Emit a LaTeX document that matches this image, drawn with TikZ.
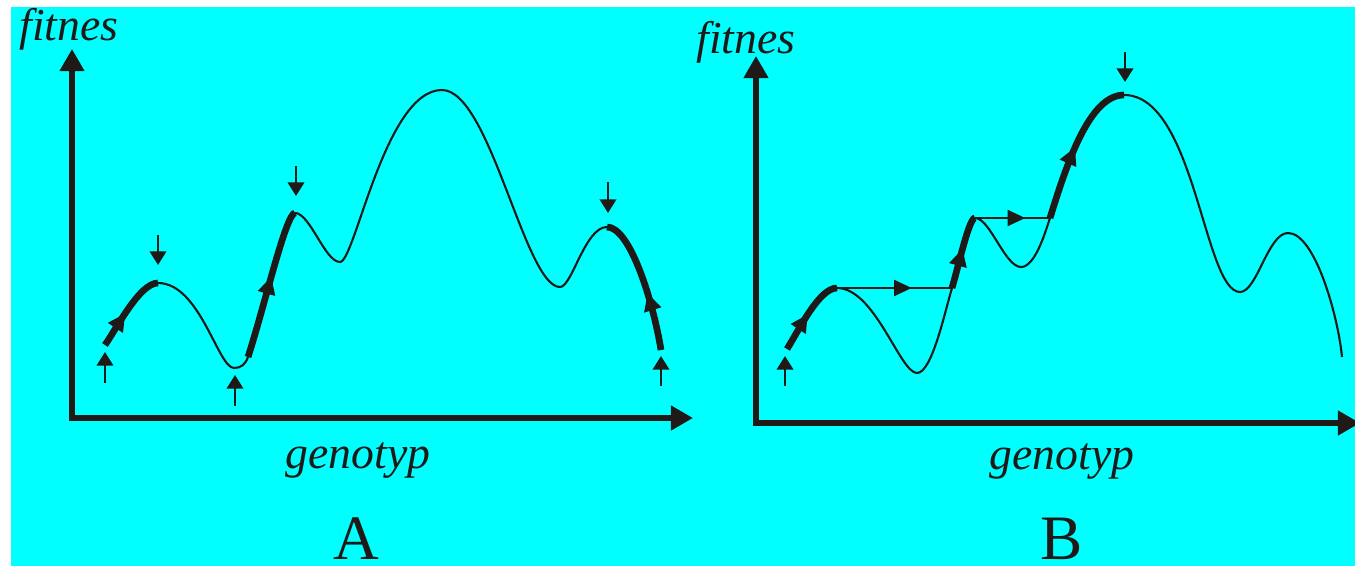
\documentclass[tikz,border=0pt]{standalone}
\usepackage{fontspec}
\setmainfont{Liberation Serif}
\usetikzlibrary{arrows.meta, decorations.markings}

\definecolor{ink}{RGB}{31,26,23}
\definecolor{sky}{RGB}{0,255,255}

\begin{document}
\begin{tikzpicture}[x=0.01cm, y=0.01cm,
    axis/.style={draw=ink, line width=1.45pt,
                 {Triangle[length=6.3pt,width=6.8pt]}-{Triangle[length=6.3pt,width=6.8pt]}},
    land/.style={draw=ink, line width=0.6pt},
    climb/.style={draw=ink, line width=1.9pt, postaction={decorate},
                  decoration={markings, mark=at position #1 with {\arrow{Triangle[length=5pt,width=4.8pt]}}}},
    jump/.style={draw=ink, line width=0.7pt, postaction={decorate},
                 decoration={markings, mark=at position #1 with {\arrow{Triangle[length=5pt,width=4.5pt]}}}},
    pin/.style={draw=ink, line width=0.7pt, -{Triangle[length=3.9pt,width=4.7pt]}},
    axlabel/.style={font=\fontsize{13pt}{15pt}\selectfont\itshape, text=ink, inner sep=0pt, anchor=base},
    panel/.style={font=\fontsize{18pt}{21pt}\selectfont, text=ink, inner sep=0pt, anchor=base}
]
    % background
    \fill[white] (0,0) rectangle (1355,566);
    \fill[sky] (11,0) rectangle (1355,559);
    \useasboundingbox (0,0) rectangle (1355,566);

    % ── Panel A ──
    \coordinate (oA) at (72,148);
    \coordinate (yA) at (72,517);
    \coordinate (xA) at (693,148);
    \draw[axis] (yA) -- (oA) -- (xA);

    \node[axlabel] (fitA) at (69,525) {fitnes};
    \node[axlabel] (genA) at (358,98) {genotyp};
    \node[panel]   (labA) at (356,7)  {A};

    \coordinate (s1A) at (105,221);
    \coordinate (p1A) at (158,283);
    \coordinate (t1A) at (234,198);
    \coordinate (q1A) at (248,209);
    \coordinate (p2A) at (295,353);
    \coordinate (t2A) at (340,304);
    \coordinate (p3A) at (442,476);
    \coordinate (t3A) at (560,279);
    \coordinate (p4A) at (607,339);
    \coordinate (eA)  at (661,216);

    \draw[land] (p1A) .. controls +(42,0) and +(-16,0) .. (t1A)
                      .. controls +(7,0) and +(-2.7,-7.5) .. (q1A);
    \draw[land] (p2A) .. controls +(15,0) and +(-15,0) .. (t2A)
                      .. controls +(15,0) and +(-57,0) .. (p3A)
                      .. controls +(48,0) and +(-35,0) .. (t3A)
                      .. controls +(12,0) and +(-22,0) .. (p4A);

    \draw[climb=0.45] (s1A) .. controls +(13,19) and +(-18,0) .. (p1A);
    \draw[climb=0.55] (q1A) .. controls +(16,49) and +(-9,0) .. (p2A);
    \draw[climb=0.42] (eA)  .. controls +(-8,49) and +(23,0) .. (p4A);

    \draw[pin] (s1A) ++(0,-38) -- ++(0,31);
    \draw[pin] (p1A) ++(0,48)  -- ++(0,-30);
    \draw[pin] (t1A) ++(1,-38) -- ++(0,31);
    \draw[pin] (p2A) ++(1,47)  -- ++(0,-30);
    \draw[pin] (p4A) ++(1,45)  -- ++(0,-31);
    \draw[pin] (eA)  ++(0,-36) -- ++(0,30);

    % ── Panel B ──
    \coordinate (oB) at (756,143);
    \coordinate (yB) at (756,510);
    \coordinate (xB) at (1360,143);
    \draw[axis] (yB) -- (oB) -- (xB);

    \node[axlabel] (fitB) at (746,512) {fitnes};
    \node[axlabel] (genB) at (1062,97) {genotyp};
    \node[panel]   (labB) at (1062,7)  {B};

    \coordinate (sB)  at (787,217);
    \coordinate (p1B) at (837,278);
    \coordinate (t1B) at (917,193);
    \coordinate (r1B) at (952,278);
    \coordinate (p2B) at (975,348);
    \coordinate (t2B) at (1021,299);
    \coordinate (r2B) at (1050,348);
    \coordinate (p3B) at (1124,471);
    \coordinate (t3B) at (1240,274);
    \coordinate (p4B) at (1288,333);
    \coordinate (eB)  at (1342,209);

    \draw[land] (p1B) .. controls +(38,0) and +(-17,0) .. (t1B)
                      .. controls +(15,0) and +(-7,-23) .. (r1B);
    \draw[land] (p2B) .. controls +(15,0) and +(-16,0) .. (t2B)
                      .. controls +(14,0) and +(-5,-15) .. (r2B);
    \draw[land] (p3B) .. controls +(71,0) and +(-36,0) .. (t3B)
                      .. controls +(17,0) and +(-20,0) .. (p4B)
                      .. controls +(27,0) and +(-4,41) .. (eB);

    \draw[jump=0.65] (p1B) -- (r1B);
    \draw[jump=0.67] (p2B) -- (r2B);

    \draw[climb=0.5]  (sB)  .. controls +(12,19) and +(-18,0) .. (p1B);
    \draw[climb=0.55] (r1B) .. controls +(7,24) and +(-6,0) .. (p2B);
    \draw[climb=0.5]  (r2B) .. controls +(17.5,57) and +(-34,0) .. (p3B);

    \draw[pin] (sB)  ++(-2,-37) -- ++(0,30);
    \draw[pin] (p3B) ++(1,43)   -- ++(0,-30);
\end{tikzpicture}
\end{document}
